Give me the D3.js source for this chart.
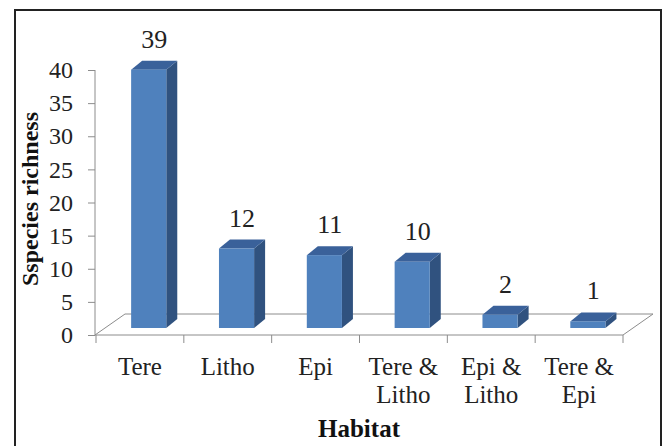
<!DOCTYPE html>
<html><head><meta charset="utf-8">
<script src="https://cdn.jsdelivr.net/npm/d3@7/dist/d3.min.js"></script>
<style>body{margin:0;background:#fff}svg{display:block}</style>
</head><body>
<svg id="c" width="665" height="446"></svg>
<script>
const categories = [["Tere"],["Litho"],["Epi"],["Tere &","Litho"],["Epi &","Litho"],["Tere &","Epi"]];
const values = [39,12,11,10,2,1];
const yTicks = [0,5,10,15,20,25,30,35,40];
const yTitle = "Sspecies richness";
const xTitle = "Habitat";

const svg = d3.select("#c");
const font = "'Liberation Serif','Times New Roman',serif";
svg.append("rect").attr("x",15).attr("y",10).attr("width",646).attr("height",440)
  .attr("fill","#fff").attr("stroke","#222").attr("stroke-width",2);

const y = d3.scaleLinear().domain([0,40]).range([335,70]);
const x = d3.scaleBand().domain(d3.range(values.length)).range([96,623]).padding(0);
const bw = x.bandwidth();
const depthDx = 30, depthDy = -21;       // floor depth
const barDy = -7;                        // bar front plane offset
const sideDx = 11, sideDy = -9;          // bar depth

// floor
const fy = y(0);
svg.append("path")
  .attr("d",`M95,${fy}L623,${fy}L${623+depthDx},${fy+depthDy}L${95+depthDx},${fy+depthDy}Z`)
  .attr("fill","none").attr("stroke","#8c8c8c").attr("stroke-width",1);
// x ticks
svg.append("g").selectAll("line").data(d3.range(values.length+1)).join("line")
  .attr("x1",i=>96+i*bw).attr("x2",i=>96+i*bw).attr("y1",fy).attr("y2",fy+8)
  .attr("stroke","#8c8c8c");

// y axis
const ya = svg.append("g").attr("transform","translate(95,0)")
  .call(d3.axisLeft(y).tickValues(yTicks).tickSize(7).tickPadding(15));
ya.select(".domain").attr("stroke","#8c8c8c").attr("d",`M0,${y(40)}V${y(0)}`);
ya.selectAll(".tick line").attr("stroke","#8c8c8c");
ya.selectAll(".tick text").attr("font-family",font).attr("font-size",24).attr("fill","#222");

// bars
const bars = svg.append("g").selectAll("g").data(values).join("g");
const w = bw*0.4;
bars.each(function(d,i){
  const g = d3.select(this);
  const x0 = x(i) + bw*0.4, x1 = x0 + w;
  const yb = y(0)+barDy, yt = y(d)+barDy;
  g.append("path").attr("d",`M${x1},${yb}L${x1+sideDx},${yb+sideDy}L${x1+sideDx},${yt+sideDy}L${x1},${yt}Z`)
    .attr("fill","#30527F");
  g.append("path").attr("d",`M${x0},${yt}L${x1},${yt}L${x1+sideDx},${yt+sideDy}L${x0+sideDx},${yt+sideDy}Z`)
    .attr("fill","#3A619A");
  g.append("rect").attr("x",x0).attr("y",yt).attr("width",w).attr("height",yb-yt)
    .attr("fill","#4F81BD");
  g.append("text").attr("x",(x0+x1)/2+sideDx/2).attr("y",yt+sideDy-13)
    .attr("text-anchor","middle").attr("font-family",font).attr("font-size",26).attr("fill","#222")
    .text(d);
});

// category labels
const cl = svg.append("g").selectAll("text").data(categories).join("text")
  .attr("x",(d,i)=>x(i)+bw/2).attr("y",375)
  .attr("text-anchor","middle").attr("font-family",font).attr("font-size",25).attr("fill","#222");
cl.selectAll("tspan").data(d=>d).join("tspan")
  .attr("x",function(){return d3.select(this.parentNode).attr("x");})
  .attr("dy",(d,j)=>j?28:0).text(d=>d);

// titles
svg.append("text").attr("x",359).attr("y",437).attr("text-anchor","middle")
  .attr("font-family",font).attr("font-size",25).attr("font-weight","bold").attr("fill","#111").text(xTitle);
svg.append("text").attr("transform","translate(38,199) rotate(-90)").attr("text-anchor","middle")
  .attr("font-family",font).attr("font-size",24).attr("font-weight","bold").attr("fill","#111").text(yTitle);
</script>
</body></html>
